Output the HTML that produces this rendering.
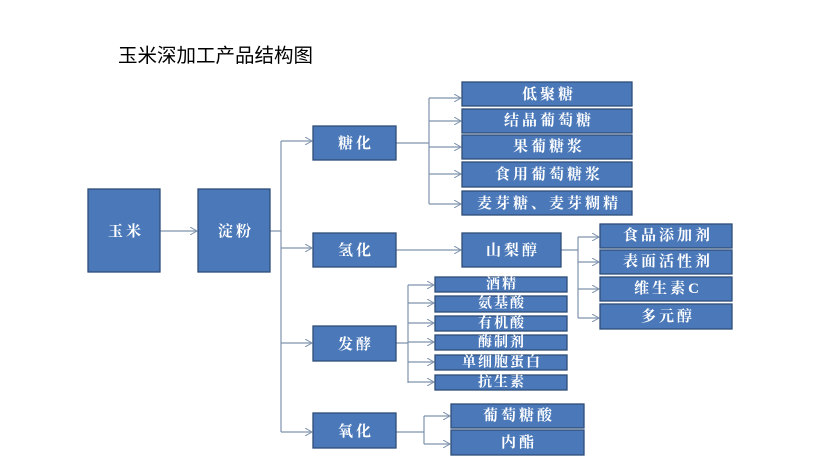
<!DOCTYPE html>
<html><head><meta charset="utf-8"><style>
html,body{margin:0;padding:0;background:#fff;width:828px;height:466px;overflow:hidden}
svg text{font-family:"Liberation Serif","Noto Serif CJK SC","WenQuanYi Zen Hei",serif;fill:#fff;font-weight:bold;text-anchor:middle;dominant-baseline:central}
.b text{letter-spacing:3px}
.s text{letter-spacing:2px}
</style></head><body>
<svg width="828" height="466" viewBox="0 0 828 466" xmlns="http://www.w3.org/2000/svg">
<defs><marker id="a" markerWidth="8" markerHeight="8" refX="7" refY="4" orient="auto" markerUnits="userSpaceOnUse"><path d="M0,0 L7,4 L0,8" fill="none" stroke="#7f93ad" stroke-width="1"/></marker></defs>
<text x="118" y="56" style="fill:#000;font-weight:normal;text-anchor:start;font-family:'Liberation Sans','Noto Sans CJK SC',sans-serif;font-size:19.5px">玉米深加工产品结构图</text>
<g stroke="#7f93ad" stroke-width="1.2" fill="none">
<path d="M160 231H197" marker-end="url(#a)"/>
<path d="M270 231H281M281 141V432"/>
<path d="M281 141H312" marker-end="url(#a)"/><path d="M281 248H312" marker-end="url(#a)"/><path d="M281 343H312" marker-end="url(#a)"/><path d="M281 432H312" marker-end="url(#a)"/>
<path d="M396 143H429M429 98V204"/>
<path d="M429 98H461" marker-end="url(#a)"/><path d="M429 121H461" marker-end="url(#a)"/><path d="M429 147H461" marker-end="url(#a)"/><path d="M429 174H461" marker-end="url(#a)"/><path d="M429 204H461" marker-end="url(#a)"/>
<path d="M396 250H461" marker-end="url(#a)"/>
<path d="M561 250H578M578 237V318"/>
<path d="M578 237H599" marker-end="url(#a)"/><path d="M578 262H599" marker-end="url(#a)"/><path d="M578 289H599" marker-end="url(#a)"/><path d="M578 318H599" marker-end="url(#a)"/>
<path d="M396 343H408M408 285V383"/>
<path d="M408 285H434" marker-end="url(#a)"/><path d="M408 303H434" marker-end="url(#a)"/><path d="M408 323H434" marker-end="url(#a)"/><path d="M408 342H434" marker-end="url(#a)"/><path d="M408 362H434" marker-end="url(#a)"/><path d="M408 382H434" marker-end="url(#a)"/>
<path d="M396 432H424M424 416V444"/>
<path d="M424 416H450" marker-end="url(#a)"/><path d="M424 444H450" marker-end="url(#a)"/>
</g>
<g fill="#4a78b8" stroke="#2e4d78" stroke-width="1.3">
<rect x="88" y="189" width="72" height="83"/><rect x="198" y="189" width="72" height="83"/>
<rect x="313" y="126" width="83" height="34"/><rect x="313" y="233" width="83" height="34"/><rect x="313" y="326" width="83" height="35"/><rect x="313" y="413" width="83" height="35"/>
<rect x="462" y="82" width="170" height="24"/><rect x="462" y="109" width="170" height="24"/><rect x="462" y="135" width="170" height="24"/><rect x="462" y="162" width="170" height="25"/><rect x="462" y="191" width="170" height="24"/>
<rect x="462" y="233" width="99" height="34"/>
<rect x="600" y="224" width="132" height="24"/><rect x="600" y="250" width="132" height="24"/><rect x="600" y="277" width="132" height="24"/><rect x="600" y="304" width="132" height="25"/>
<rect x="435" y="277" width="132" height="15"/><rect x="435" y="296" width="132" height="16"/><rect x="435" y="316" width="132" height="15"/><rect x="435" y="335" width="132" height="15"/><rect x="435" y="355" width="132" height="15"/><rect x="435" y="375" width="132" height="15"/>
<rect x="451" y="404" width="133" height="24"/><rect x="451" y="430" width="133" height="25"/>
</g>
<g font-size="15" class="b">
<text x="126" y="232">玉米</text><text x="236" y="232">淀粉</text>
<text x="356" y="144">糖化</text><text x="356" y="251">氢化</text><text x="356" y="345">发酵</text><text x="356" y="432">氧化</text>
<text x="549" y="95">低聚糖</text><text x="549" y="121">结晶葡萄糖</text><text x="549" y="147">果葡糖浆</text><text x="549" y="175">食用葡萄糖浆</text><text x="549" y="204">麦芽糖、麦芽糊精</text>
<text x="513" y="251">山梨醇</text>
<text x="668" y="236">食品添加剂</text><text x="668" y="262">表面活性剂</text><text x="668" y="289">维生素C</text><text x="668" y="317">多元醇</text>
<text x="519" y="416">葡萄糖酸</text><text x="519" y="443">内酯</text>
</g>
<g font-size="14" class="s">
<text x="502" y="285">酒精</text><text x="502" y="304">氨基酸</text><text x="502" y="324">有机酸</text><text x="502" y="343">酶制剂</text><text x="502" y="363">单细胞蛋白</text><text x="502" y="383">抗生素</text>
</g>
</svg>
</body></html>
